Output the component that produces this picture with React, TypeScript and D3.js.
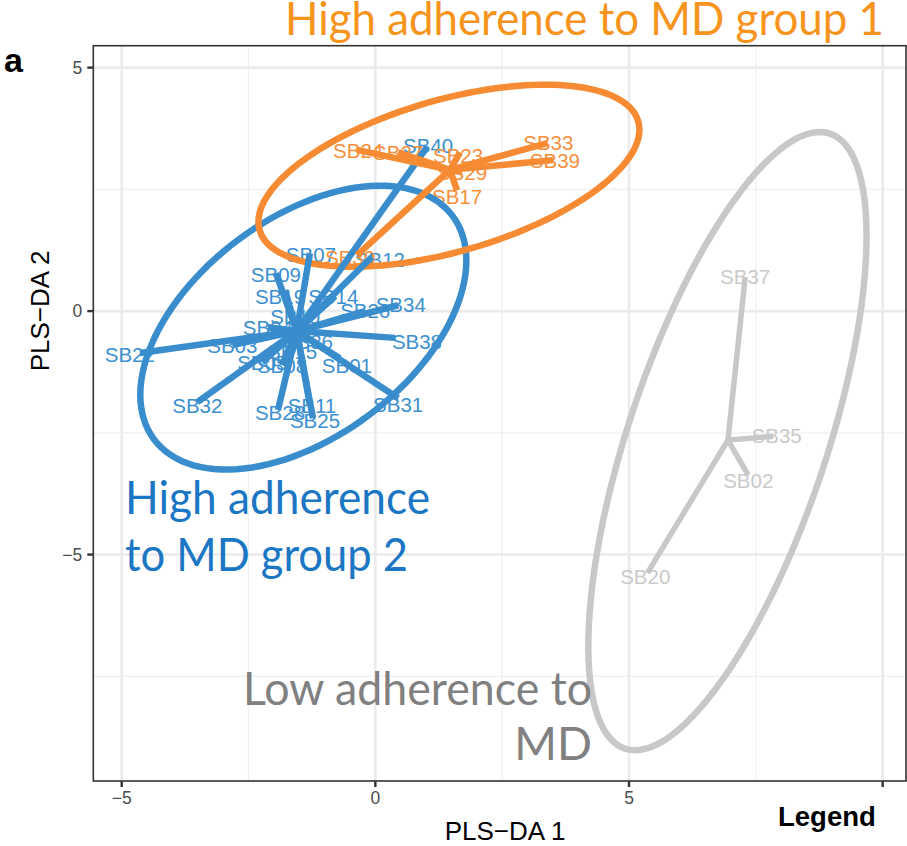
import React from 'react';
import * as d3 from 'd3';

const W = 907;
const H = 846;

// ---- Sample scores on the first two PLS-DA components ----
// High adherence group 1 (orange)
const g1Names = ['SB33', 'SB39', 'SB23', 'SB29', 'SB17', 'SB24', 'SB27', 'SB30'];
const g1X = [3.39, 3.5, 1.67, 1.71, 1.61, -0.36, 0.45, -0.36];
const g1Y = [3.45, 3.1, 3.26, 2.85, 2.48, 3.31, 3.26, 1.15];
const g1LabelX = [3.41, 3.54, 1.63, 1.71, 1.61, -0.34, 0.45, -0.5];
const g1LabelY = [3.45, 3.1, 3.2, 2.85, 2.36, 3.29, 3.26, 1.09];

// High adherence group 2 (blue)
const g2Names = [
  'SB22', 'SB32', 'SB09', 'SB07', 'SB12', 'SB40', 'SB19', 'SB14', 'SB26', 'SB34', 'SB38', 'SB01',
  'SB31', 'SB11', 'SB25', 'SB28', 'SB03', 'SB04', 'SB10', 'SB36', 'SB15', 'SB05', 'SB08',
];
const g2X = [
  -4.64, -3.51, -1.96, -1.29, -0.07, 1.02, -1.78, -0.79, -0.2, 0.45, 0.39, -0.7,
  0.45, -1.29, -1.23, -1.92, -2.82, -2.12, -1.58, -1.33, -1.64, -2.23, -1.84,
];
const g2Y = [
  -0.86, -1.87, 0.78, 1.19, 1.11, 3.37, 0.43, 0.31, 0.0, 0.12, -0.55, -0.97,
  -1.79, -1.93, -2.2, -2.03, -0.7, -0.33, -0.12, -0.62, -0.84, -1.05, -1.11,
];
const g2LabelX = [
  -4.84, -3.51, -1.96, -1.27, 0.09, 1.04, -1.88, -0.83, -0.2, 0.5, 0.82, -0.56,
  0.45, -1.25, -1.19, -1.88, -2.82, -2.12, -1.58, -1.33, -1.64, -2.23, -1.84,
];
const g2LabelY = [
  -0.9, -1.95, 0.74, 1.15, 1.05, 3.39, 0.29, 0.29, 0.0, 0.14, -0.62, -1.13,
  -1.93, -1.95, -2.24, -2.09, -0.7, -0.33, -0.12, -0.62, -0.84, -1.05, -1.11,
];

// Low adherence (grey)
const g3Names = ['SB37', 'SB35', 'SB02', 'SB20'];
const g3X = [7.29, 7.84, 7.35, 5.36];
const g3Y = [0.7, -2.57, -3.37, -5.38];
const g3LabelX = [7.29, 7.91, 7.35, 5.32];
const g3LabelY = [0.7, -2.55, -3.49, -5.46];

// Group centroids (star centres)
const centroidX = [1.47, -1.55, 6.95];
const centroidY = [2.9, -0.41, -2.65];

// Confidence ellipses: centre and the two semi-axis vectors (data units)
const ellipseCX = [1.45, -1.42, 6.94];
const ellipseCY = [2.78, -0.34, -2.67];
const ellipseUX = [3.732, 2.943, 2.018];
const ellipseUY = [1.117, 2.293, 6.316];
const ellipseVX = [0.414, 1.291, 1.857];
const ellipseVY = [-1.499, -1.799, -0.643];

// Axes
const xTicks = [-5, 0, 5, 10];
const xTickLabels = ['\u22125', '0', '5', ''];
const yTicks = [-5, 0, 5];
const yTickLabels = ['\u22125', '0', '5'];
const xMinor = [-2.5, 2.5, 7.5];
const yMinor = [-7.5, -2.5, 2.5];

const groupColors = ['#F68B33', '#3A8DCC', '#C8C8C8'];
const labelColors = ['#F6903C', '#3D90CF', '#CACACA'];

type Sample = { name: string; x: number; y: number; lx: number; ly: number };

function buildGroup(names: string[], xs: number[], ys: number[], lxs: number[], lys: number[]): Sample[] {
  return names.map((name, i) => ({ name, x: xs[i], y: ys[i], lx: lxs[i], ly: lys[i] }));
}

const groups = [
  buildGroup(g1Names, g1X, g1Y, g1LabelX, g1LabelY),
  buildGroup(g2Names, g2X, g2Y, g2LabelX, g2LabelY),
  buildGroup(g3Names, g3X, g3Y, g3LabelX, g3LabelY),
];

export default function App() {
  const x = d3.scaleLinear().domain([-5.56, 10.46]).range([93.3, 906]);
  const y = d3.scaleLinear().domain([-9.65, 5.45]).range([781, 45.7]);
  const [x0, x1] = x.range();
  const [y0, y1] = y.range();

  const ellipseLine = d3
    .line<[number, number]>()
    .x((d) => x(d[0]))
    .y((d) => y(d[1]))
    .curve(d3.curveLinearClosed);

  const ellipsePath = (g: number) =>
    ellipseLine(
      d3.range(0, 120).map((i) => {
        const t = (2 * Math.PI * i) / 120;
        return [
          ellipseCX[g] + ellipseUX[g] * Math.cos(t) + ellipseVX[g] * Math.sin(t),
          ellipseCY[g] + ellipseUY[g] * Math.cos(t) + ellipseVY[g] * Math.sin(t),
        ] as [number, number];
      })
    ) as string;

  const drawOrder = [2, 1, 0];

  return (
    <svg
      width={W}
      height={H}
      style={{ position: 'absolute', left: 0, top: 0, background: '#fff' }}
      fontFamily="'Liberation Sans', Arial, Helvetica, sans-serif"
    >
      <rect x={0} y={0} width={W} height={H} fill="#fff" />

      {/* grid */}
      <g>
        {xMinor.map((v) => (
          <line key={'xm' + v} x1={x(v)} x2={x(v)} y1={y1} y2={y0} stroke="#F0F0F0" strokeWidth={1.3} />
        ))}
        {yMinor.map((v) => (
          <line key={'ym' + v} x1={x0} x2={x1} y1={y(v)} y2={y(v)} stroke="#F0F0F0" strokeWidth={1.3} />
        ))}
        {xTicks.map((v) => (
          <line key={'xM' + v} x1={x(v)} x2={x(v)} y1={y1} y2={y0} stroke="#EBEBEB" strokeWidth={2.6} />
        ))}
        {yTicks.map((v) => (
          <line key={'yM' + v} x1={x0} x2={x1} y1={y(v)} y2={y(v)} stroke="#EBEBEB" strokeWidth={2.6} />
        ))}
      </g>

      {/* sample labels */}
      {drawOrder.map((g) => (
        <g key={'lab' + g} fill={labelColors[g]} fontSize={20.5} textAnchor="middle">
          {groups[g].map((s) => (
            <text key={s.name} x={x(s.lx)} y={y(s.ly)} dy="0.36em">
              {s.name}
            </text>
          ))}
        </g>
      ))}

      {/* confidence ellipses */}
      {drawOrder.map((g) => (
        <path key={'ell' + g} d={ellipsePath(g)} fill="none" stroke={groupColors[g]} strokeWidth={6.5} />
      ))}

      {/* star segments from centroid to each sample */}
      {drawOrder.map((g) => (
        <g key={'star' + g} stroke={groupColors[g]} strokeWidth={g === 2 ? 5.5 : 6.5}>
          {groups[g].map((s) => (
            <line key={s.name} x1={x(centroidX[g])} y1={y(centroidY[g])} x2={x(s.x)} y2={y(s.y)} />
          ))}
        </g>
      ))}

      {/* panel border */}
      <rect x={x0} y={y1} width={x1 - x0} height={y0 - y1} fill="none" stroke="#333" strokeWidth={1.6} />

      {/* x axis */}
      <g>
        {xTicks.map((v, i) => (
          <g key={'xt' + v} transform={`translate(${x(v)},${y0})`}>
            <line y1={0} y2={6} stroke="#333" strokeWidth={2.4} />
            <text y={23} textAnchor="middle" fontSize={17.5} fill="#4D4D4D">
              {xTickLabels[i]}
            </text>
          </g>
        ))}
      </g>
      {/* y axis */}
      <g>
        {yTicks.map((v, i) => (
          <g key={'yt' + v} transform={`translate(${x0},${y(v)})`}>
            <line x1={-6} x2={0} stroke="#333" strokeWidth={2.4} />
            <text x={-11} dy="0.36em" textAnchor="end" fontSize={17.5} fill="#4D4D4D">
              {yTickLabels[i]}
            </text>
          </g>
        ))}
      </g>

      {/* axis titles */}
      <text x={505} y={840} textAnchor="middle" fontSize={26} fill="#000">
        PLS{'\u2212'}DA 1
      </text>
      <text transform={`translate(49,311) rotate(-90)`} textAnchor="middle" fontSize={26} fill="#000">
        PLS{'\u2212'}DA 2
      </text>
      <text x={778} y={826} fontSize={27.5} fontWeight="bold" fill="#000">
        Legend
      </text>

      {/* panel letter */}
      <text x={4} y={72} fontSize={34} fontWeight="bold" fill="#000">
        a
      </text>

      {/* group annotations */}
      <g fontFamily="Lato, 'Open Sans', sans-serif" fontSize={46}>
        <text x={285} y={35} fill="#F7941D" textLength={599} lengthAdjust="spacingAndGlyphs">
          High adherence to MD group 1
        </text>
        <text x={125} y={514} fill="#1B76C4" textLength={305} lengthAdjust="spacingAndGlyphs">
          High adherence
        </text>
        <text x={125} y={571} fill="#1B76C4" textLength={283} lengthAdjust="spacingAndGlyphs">
          to MD group 2
        </text>
        <text x={243} y={705} fill="#808080" textLength={349} lengthAdjust="spacingAndGlyphs">
          Low adherence to
        </text>
        <text x={592} y={760} fill="#808080" textAnchor="end">
          MD
        </text>
      </g>
    </svg>
  );
}
